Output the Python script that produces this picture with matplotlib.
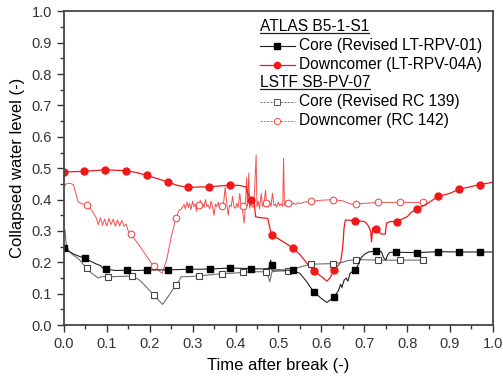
import matplotlib
matplotlib.use('Agg')
import matplotlib.pyplot as plt
from matplotlib.ticker import MultipleLocator

plt.rcParams['font.family'] = ['Liberation Sans', 'DejaVu Sans']

# ATLAS B5-1-S1 core (line + markers)
atlas_core_t = [0.0, 0.01, 0.03, 0.049, 0.06, 0.075, 0.085, 0.09, 0.098, 0.12, 0.146, 0.17, 0.194, 0.22,
                0.243, 0.27, 0.291, 0.32, 0.34, 0.36, 0.388, 0.41, 0.435, 0.46, 0.478, 0.482, 0.485, 0.5,
                0.533, 0.55, 0.565, 0.582, 0.6, 0.613, 0.63, 0.64, 0.645, 0.648, 0.653, 0.658, 0.662,
                0.667, 0.672, 0.679, 0.685, 0.692, 0.70, 0.71, 0.727, 0.74, 0.745, 0.75, 0.755, 0.76,
                0.774, 0.824, 0.873, 0.921, 0.969, 1.0]
atlas_core_y = [0.245, 0.235, 0.222, 0.213, 0.205, 0.195, 0.19, 0.182, 0.178, 0.174, 0.175, 0.174, 0.175, 0.176,
                0.176, 0.177, 0.178, 0.178, 0.179, 0.18, 0.182, 0.181, 0.18, 0.179, 0.18, 0.207, 0.175, 0.176,
                0.174, 0.165, 0.14, 0.106, 0.085, 0.072, 0.09, 0.11, 0.13, 0.12, 0.143, 0.15, 0.14,
                0.165, 0.17, 0.175, 0.19, 0.213, 0.225, 0.233, 0.236, 0.234, 0.215, 0.207, 0.225, 0.232,
                0.232, 0.231, 0.234, 0.233, 0.233, 0.233]
atlas_core_mk_t = [0.0, 0.049, 0.098, 0.146, 0.194, 0.243, 0.291, 0.34, 0.388, 0.435, 0.484, 0.533, 0.582,
                   0.63, 0.679, 0.727, 0.774, 0.824, 0.873, 0.921, 0.969]
atlas_core_mk_y = [0.245, 0.213, 0.178, 0.175, 0.175, 0.176, 0.178, 0.179, 0.182, 0.18, 0.191, 0.174, 0.106,
                   0.09, 0.175, 0.236, 0.232, 0.231, 0.234, 0.233, 0.233]

# ATLAS B5-1-S1 downcomer
atlas_dc_t = [0.0, 0.047, 0.097, 0.145, 0.17, 0.194, 0.22, 0.242, 0.265, 0.29, 0.339, 0.388, 0.41, 0.425,
              0.43, 0.435, 0.443, 0.447, 0.46, 0.475, 0.48, 0.484, 0.5, 0.52, 0.533, 0.55, 0.565, 0.582,
              0.6, 0.613, 0.62, 0.63, 0.645, 0.65, 0.653, 0.656, 0.68, 0.70, 0.705, 0.71, 0.715, 0.717,
              0.72, 0.727, 0.74, 0.749, 0.752, 0.76, 0.776, 0.8, 0.81, 0.824, 0.85, 0.872, 0.9, 0.921,
              0.945, 0.969, 1.0]
atlas_dc_y = [0.488, 0.49, 0.495, 0.492, 0.486, 0.477, 0.466, 0.456, 0.445, 0.439, 0.441, 0.446, 0.445, 0.44,
              0.415, 0.40, 0.398, 0.345, 0.342, 0.34, 0.31, 0.287, 0.275, 0.258, 0.246, 0.225, 0.2, 0.173,
              0.155, 0.14, 0.15, 0.175, 0.2, 0.25, 0.31, 0.335, 0.333, 0.33, 0.325, 0.315, 0.30, 0.265,
              0.31, 0.305, 0.29, 0.29, 0.325, 0.33, 0.33, 0.345, 0.36, 0.37, 0.39, 0.41, 0.42, 0.433,
              0.44, 0.448, 0.455]
atlas_dc_mk_t = [0.0, 0.047, 0.097, 0.145, 0.194, 0.242, 0.29, 0.339, 0.388, 0.435, 0.484, 0.533, 0.582,
                 0.63, 0.679, 0.727, 0.776, 0.824, 0.872, 0.921, 0.969]
atlas_dc_mk_y = [0.488, 0.49, 0.495, 0.492, 0.477, 0.456, 0.439, 0.441, 0.446, 0.40, 0.287, 0.246, 0.173,
                 0.175, 0.333, 0.305, 0.33, 0.37, 0.41, 0.433, 0.448]

# LSTF SB-PV-07 core
lstf_core_t = [0.0, 0.003, 0.005, 0.01, 0.02, 0.035, 0.053, 0.065, 0.08, 0.09, 0.103, 0.13, 0.158, 0.175,
               0.19, 0.209, 0.22, 0.23, 0.245, 0.261, 0.268, 0.273, 0.3, 0.314, 0.34, 0.368, 0.39, 0.418,
               0.44, 0.46, 0.471, 0.475, 0.48, 0.485, 0.5, 0.523, 0.55, 0.576, 0.6, 0.628, 0.65, 0.66,
               0.681, 0.733, 0.784, 0.837]
lstf_core_y = [0.308, 0.30, 0.262, 0.24, 0.225, 0.21, 0.181, 0.165, 0.15, 0.155, 0.154, 0.155, 0.156, 0.145,
               0.125, 0.096, 0.08, 0.066, 0.095, 0.128, 0.14, 0.154, 0.155, 0.157, 0.16, 0.164, 0.165, 0.168,
               0.17, 0.17, 0.17, 0.16, 0.138, 0.17, 0.172, 0.173, 0.185, 0.194, 0.195, 0.196, 0.2, 0.205,
               0.209, 0.207, 0.207, 0.207]
lstf_core_mk_t = [0.053, 0.103, 0.158, 0.209, 0.261, 0.314, 0.368, 0.418, 0.471, 0.523, 0.576, 0.628,
                  0.681, 0.733, 0.784, 0.837]
lstf_core_mk_y = [0.181, 0.154, 0.156, 0.096, 0.128, 0.157, 0.164, 0.168, 0.17, 0.173, 0.194, 0.195,
                  0.209, 0.207, 0.207, 0.207]

# LSTF SB-PV-07 downcomer (noisy signal, read by hand)
lstf_dc_t = [0.0, 0.005, 0.014, 0.022, 0.028, 0.033, 0.045, 0.053, 0.06, 0.068, 0.076, 0.08,
             0.085, 0.09, 0.095, 0.10, 0.105, 0.11, 0.115, 0.12, 0.125, 0.13, 0.135, 0.14, 0.145, 0.15,
             0.156, 0.17, 0.185, 0.2, 0.209, 0.22, 0.229, 0.24, 0.25, 0.261, 0.268,
             0.275, 0.28, 0.283, 0.287, 0.29, 0.293, 0.296, 0.30, 0.303, 0.306, 0.309, 0.312, 0.315,
             0.318, 0.321, 0.324, 0.327, 0.33, 0.333, 0.336, 0.34, 0.343, 0.346, 0.35, 0.353, 0.356,
             0.36, 0.363, 0.366, 0.37, 0.373, 0.376, 0.38, 0.383, 0.386, 0.39, 0.393, 0.396, 0.40,
             0.403, 0.406, 0.41, 0.413, 0.416, 0.42, 0.423, 0.426, 0.428, 0.431, 0.433, 0.436, 0.44,
             0.443, 0.448, 0.45, 0.453, 0.456, 0.46, 0.463, 0.466, 0.47, 0.473, 0.476, 0.48, 0.483,
             0.486, 0.49, 0.493, 0.496, 0.50, 0.503, 0.506, 0.51, 0.512, 0.514, 0.518, 0.522, 0.526,
             0.53, 0.535, 0.54, 0.545, 0.55, 0.56, 0.575, 0.60, 0.628, 0.65, 0.668, 0.68, 0.70,
             0.732, 0.784, 0.837]
lstf_dc_y = [0.441, 0.45, 0.452, 0.448, 0.42, 0.393, 0.385, 0.383, 0.375, 0.36, 0.34, 0.32,
             0.342, 0.318, 0.338, 0.316, 0.34, 0.32, 0.338, 0.315, 0.335, 0.316, 0.334, 0.315, 0.322, 0.30,
             0.289, 0.265, 0.235, 0.205, 0.189, 0.175, 0.165, 0.21, 0.28, 0.34, 0.365,
             0.372, 0.385, 0.370, 0.392, 0.375, 0.388, 0.368, 0.395, 0.378, 0.386, 0.362, 0.392, 0.377,
             0.398, 0.372, 0.386, 0.375, 0.400, 0.378, 0.383, 0.370, 0.395, 0.380, 0.350, 0.385, 0.378,
             0.392, 0.372, 0.383, 0.378, 0.398, 0.440, 0.385, 0.350, 0.382, 0.378, 0.410, 0.380, 0.372,
             0.388, 0.375, 0.420, 0.380, 0.370, 0.325, 0.378, 0.470, 0.380, 0.485, 0.372, 0.388, 0.375,
             0.380, 0.542, 0.378, 0.395, 0.370, 0.420, 0.378, 0.386, 0.430, 0.380, 0.375, 0.390, 0.378,
             0.420, 0.380, 0.386, 0.376, 0.392, 0.380, 0.387, 0.378, 0.532, 0.382, 0.388, 0.380, 0.390,
             0.383, 0.389, 0.385, 0.390, 0.387, 0.392, 0.394, 0.398, 0.400, 0.396, 0.386, 0.386, 0.388,
             0.391, 0.391, 0.391]
lstf_dc_mk_t = [0.053, 0.156, 0.209, 0.261, 0.314, 0.368, 0.418, 0.47, 0.523, 0.575, 0.628, 0.68,
                0.732, 0.784, 0.837]
lstf_dc_mk_y = [0.383, 0.289, 0.189, 0.34, 0.382, 0.38, 0.38, 0.39, 0.388, 0.394, 0.40, 0.386,
                0.391, 0.391, 0.391]

RED = '#f01818'
PINK = '#f05050'
GRAY = '#6e6e6e'

fig = plt.figure(figsize=(5.03, 3.78), dpi=100)
ax = fig.add_axes([0.127, 0.140, 0.853, 0.830])

ax.plot(lstf_dc_t, lstf_dc_y, color=PINK, lw=0.7)
ax.plot(lstf_dc_mk_t, lstf_dc_mk_y, ls='none', marker='o', ms=4.8, mfc='white', mec=PINK, mew=0.8)
ax.plot(atlas_dc_t, atlas_dc_y, color=RED, lw=0.9)
ax.plot(atlas_dc_mk_t, atlas_dc_mk_y, ls='none', marker='o', ms=5, color=RED)
ax.plot(lstf_core_t, lstf_core_y, color=GRAY, lw=0.8)
ax.plot(lstf_core_mk_t, lstf_core_mk_y, ls='none', marker='s', ms=4.3, mfc='white', mec='#444444', mew=0.8)
ax.plot(atlas_core_t, atlas_core_y, color='#222222', lw=0.8)
ax.plot(atlas_core_mk_t, atlas_core_mk_y, ls='none', marker='s', ms=4.3, color='black')

ax.set_xlim(0, 1)
ax.set_ylim(0, 1)
ax.xaxis.set_major_locator(MultipleLocator(0.1))
ax.xaxis.set_minor_locator(MultipleLocator(0.05))
ax.yaxis.set_major_locator(MultipleLocator(0.1))
ax.yaxis.set_minor_locator(MultipleLocator(0.05))
ax.xaxis.set_major_formatter(lambda v, p: '%.1f' % v)
ax.yaxis.set_major_formatter(lambda v, p: '%.1f' % v)
ax.tick_params(which='both', direction='out', top=False, right=False, labelsize=10.5, colors='#333333')
ax.tick_params(which='major', length=5, width=1)
ax.tick_params(which='minor', length=3, width=1)
for s in ax.spines.values():
    s.set_color('#444444')
    s.set_linewidth(1.3)

ax.set_xlabel('Time after break (-)', fontsize=12, labelpad=5)
ax.set_ylabel('Collapsed water level (-)', fontsize=12, labelpad=5)

# legend, drawn by hand (titles are underlined)
lx0, lx1, tx = 0.457, 0.538, 0.548
rows = [0.951, 0.891, 0.829, 0.773, 0.712, 0.652]
kw = dict(transform=ax.transAxes, va='center', ha='left', fontsize=11.2)
titles = [ax.text(lx0, rows[0], 'ATLAS B5-1-S1', **kw), ax.text(lx0, rows[3], 'LSTF SB-PV-07', **kw)]
ax.text(tx, rows[1], 'Core (Revised LT-RPV-01)', **kw)
ax.text(tx, rows[2], 'Downcomer (LT-RPV-04A)', **kw)
ax.text(tx, rows[4], 'Core (Revised RC 139)', **kw)
ax.text(tx, rows[5], 'Downcomer (RC 142)', **kw)
lm = (lx0 + lx1) / 2
ax.plot([lx0, lx1], [rows[1]] * 2, transform=ax.transAxes, color='#222222', lw=0.8)
ax.plot([lm], [rows[1]], transform=ax.transAxes, marker='s', ms=4, color='black')
ax.plot([lx0, lx1], [rows[2]] * 2, transform=ax.transAxes, color=RED, lw=0.9)
ax.plot([lm], [rows[2]], transform=ax.transAxes, marker='o', ms=4.5, color=RED)
ax.plot([lx0, lx1], [rows[4]] * 2, transform=ax.transAxes, color=GRAY, lw=0.7, ls=(0, (2, 1.5)))
ax.plot([lm], [rows[4]], transform=ax.transAxes, marker='s', ms=4, mfc='white', mec='#555555', mew=0.7)
ax.plot([lx0, lx1], [rows[5]] * 2, transform=ax.transAxes, color=PINK, lw=0.7, ls=(0, (2, 1.5)))
ax.plot([lm], [rows[5]], transform=ax.transAxes, marker='o', ms=4.5, mfc='white', mec=PINK, mew=0.7)

fig.canvas.draw()
r = fig.canvas.get_renderer()
for t in titles:
    bb = t.get_window_extent(r).transformed(ax.transAxes.inverted())
    ax.plot([bb.x0, bb.x1], [bb.y0 + 0.004] * 2, transform=ax.transAxes, color='#222222', lw=0.9)

fig.savefig('out.png', dpi=100)
